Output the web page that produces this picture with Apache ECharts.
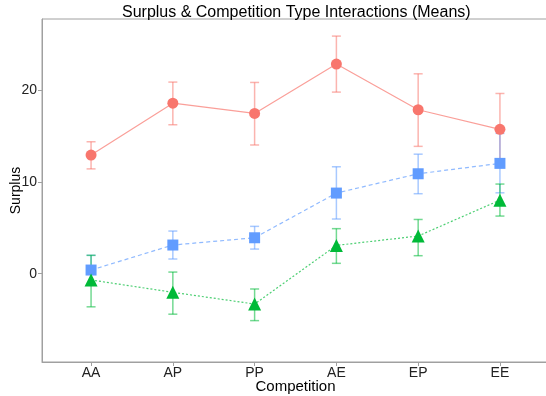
<!DOCTYPE html>
<html>
<head>
<meta charset="utf-8">
<script src="https://cdn.jsdelivr.net/npm/echarts@6/dist/echarts.min.js"></script>
<style>
  html, body { margin: 0; padding: 0; background: #fff; }
  #chart { width: 546px; height: 396px; }
</style>
</head>
<body>
<div id="chart"></div>
<script>
// Competition types along x
const categories = ['AA', 'AP', 'PP', 'AE', 'EP', 'EE'];
const yTicks = [0, 10, 20];

// red group (circles, solid)
const redMean = [12.9, 18.55, 17.43, 22.8, 17.83, 15.7];
const redLow = [11.4, 16.2, 14.0, 19.75, 13.85, 11.8];
const redHigh = [14.35, 20.84, 20.8, 25.84, 21.74, 19.6];

// blue group (squares, dashed)
const blueMean = [0.4, 3.12, 3.91, 8.77, 10.87, 12.0];
const blueLow = [-1.2, 1.6, 2.68, 5.95, 8.7, 8.8];
const blueHigh = [2.0, 4.64, 5.15, 11.63, 13.0, 15.26];

// green group (triangles, dotted)
const greenMean = [-0.68, -2.02, -3.3, 3.08, 4.1, 8.0];
const greenLow = [-3.6, -4.4, -5.1, 1.13, 1.96, 6.27];
const greenHigh = [2.0, 0.18, -1.66, 4.9, 5.9, 9.75];

const FONT = '"Liberation Sans", Arial, sans-serif';

function errorBars(low, high, color) {
  return {
    type: 'custom',
    z: 1,
    data: categories.map((c, i) => [i, low[i], high[i]]),
    renderItem: (params, api) => {
      const x = api.value(0);
      const lo = api.coord([x, api.value(1)]);
      const hi = api.coord([x, api.value(2)]);
      const hw = 4.5;
      const style = { stroke: color, lineWidth: 1.5, opacity: 0.55 };
      return {
        type: 'group',
        children: [
          { type: 'line', shape: { x1: lo[0], y1: lo[1], x2: hi[0], y2: hi[1] }, style },
          { type: 'line', shape: { x1: lo[0] - hw, y1: lo[1], x2: lo[0] + hw, y2: lo[1] }, style },
          { type: 'line', shape: { x1: hi[0] - hw, y1: hi[1], x2: hi[0] + hw, y2: hi[1] }, style },
        ],
      };
    },
  };
}

function meanLine(mean, color, symbol, size, lineType) {
  return {
    type: 'line',
    z: 2,
    data: categories.map((c, i) => [i, mean[i]]),
    symbol,
    symbolSize: size,
    itemStyle: { color, opacity: 1 },
    lineStyle: { color, width: 1.2, type: lineType, opacity: 0.7 },
    animation: false,
  };
}

const chart = echarts.init(document.getElementById('chart'));
chart.setOption({
  animation: false,
  backgroundColor: '#fff',
  title: {
    text: 'Surplus & Competition Type Interactions (Means)',
    left: 117,
    top: 0,
    textStyle: { fontFamily: FONT, fontSize: 16, fontWeight: 'normal', color: '#000' },
  },
  grid: {
    left: 42, right: -3, top: 19, bottom: 34,
    outerBoundsMode: 'none',
    containLabel: false,
    show: true, borderColor: '#a0a0a0', borderWidth: 1,
  },
  xAxis: {
    type: 'value',
    min: -0.6,
    max: 5.6,
    name: 'Competition',
    nameLocation: 'middle',
    nameGap: 17,
    nameMoveOverlap: false,
    nameTextStyle: { fontFamily: FONT, fontSize: 15, color: '#000' },
    axisLine: { show: true, onZero: false, lineStyle: { color: '#a0a0a0', width: 1 } },
    axisTick: { show: true, length: 4, lineStyle: { color: '#a0a0a0' }, customValues: categories.map((c, i) => i) },
    axisLabel: {
      fontFamily: FONT, fontSize: 14, color: '#222', margin: 4,
      customValues: categories.map((c, i) => i),
      formatter: (v) => categories[Math.round(v)],
    },
    splitLine: { show: false },
  },
  yAxis: {
    type: 'value',
    min: -9.6,
    max: 27.7,
    name: 'Surplus',
    nameLocation: 'middle',
    nameGap: 19,
    nameMoveOverlap: false,
    nameTextStyle: { fontFamily: FONT, fontSize: 14, color: '#000' },
    axisLine: { show: true, onZero: false, lineStyle: { color: '#a0a0a0', width: 1 } },
    axisTick: { show: true, length: 4, lineStyle: { color: '#a0a0a0' }, customValues: yTicks },
    axisLabel: { fontFamily: FONT, fontSize: 14, color: '#222', margin: 5, customValues: yTicks },
    splitLine: { show: false },
  },
  series: [
    errorBars(redLow, redHigh, '#F8766D'),
    errorBars(blueLow, blueHigh, '#619CFF'),
    errorBars(greenLow, greenHigh, '#00BA38'),
    meanLine(redMean, '#F8766D', 'circle', 11, 'solid'),
    meanLine(blueMean, '#619CFF', 'rect', 11, [4, 3]),
    meanLine(greenMean, '#00BA38', 'triangle', 13, [2, 2]),
  ],
});
</script>
</body>
</html>
